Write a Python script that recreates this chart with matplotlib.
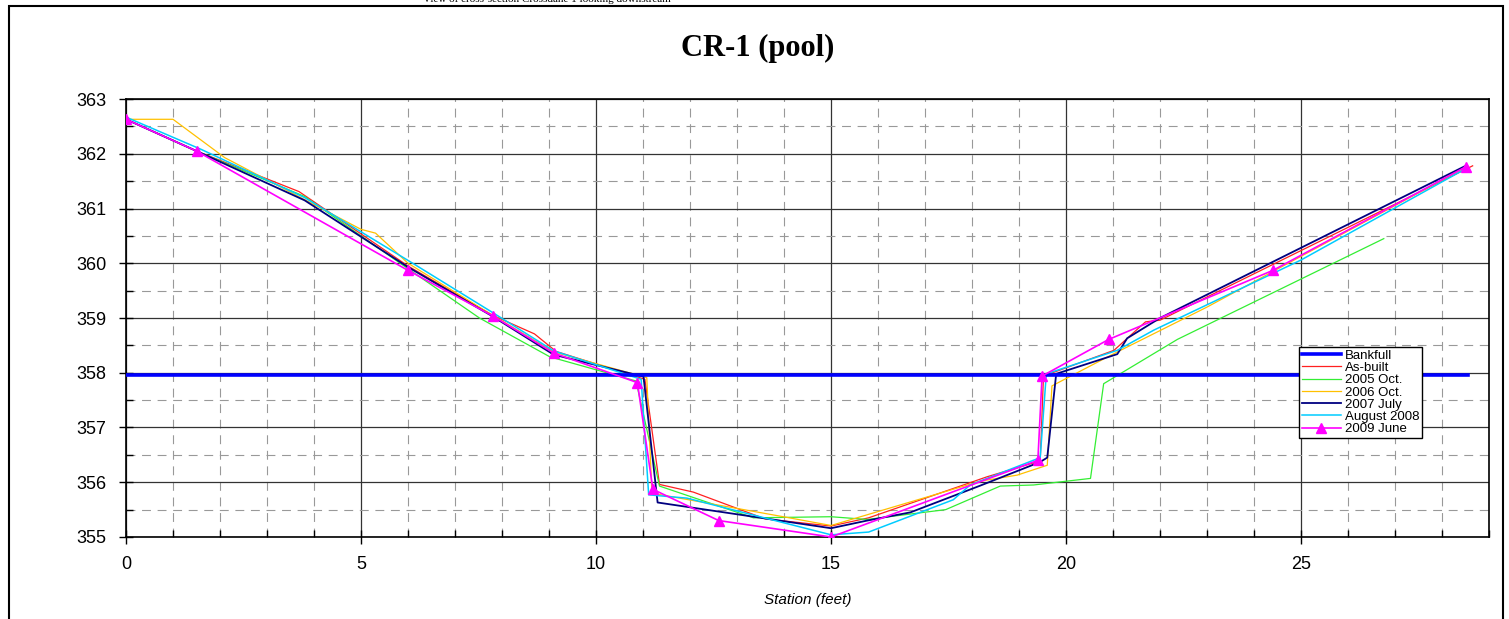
import numpy as np
import matplotlib
matplotlib.use("Agg")
import matplotlib.pyplot as plt
from matplotlib.patches import Rectangle

# cross section CR-1 (pool), survey lines
bank_x = [0, 28.55]
bank_y = [357.95, 357.95]

asbuilt_x = [0, 1.5, 3.68, 6.0, 7.8, 8.69, 9.15, 11.04, 11.35, 12.07, 13.6, 15.0, 15.8, 18.32, 19.45, 19.52, 21.02, 21.69, 22.0, 28.65]
asbuilt_y = [362.63, 362.05, 361.31, 359.95, 359.05, 358.71, 358.39, 357.88, 355.96, 355.82, 355.33, 355.2, 355.35, 356.1, 356.39, 357.94, 358.41, 358.93, 358.96, 361.78]

oct05_x = [0, 1.5, 3.8, 6.0, 7.52, 9.02, 10.85, 11.35, 13.35, 15.0, 15.77, 17.44, 18.6, 19.31, 20.52, 20.8, 22.37, 26.76]
oct05_y = [362.63, 362.05, 361.22, 359.9, 359.0, 358.29, 357.85, 355.93, 355.35, 355.37, 355.32, 355.5, 355.93, 355.95, 356.07, 357.8, 358.61, 360.45]

oct06_x = [0, 1.0, 2.1, 5.0, 5.31, 6.0, 7.8, 9.1, 11.08, 11.19, 13.92, 15.0, 18.18, 18.96, 19.6, 19.7, 21.02, 23.0, 28.5]
oct06_y = [362.63, 362.63, 361.93, 360.62, 360.55, 360.0, 359.05, 358.38, 357.91, 355.8, 355.38, 355.21, 356.02, 356.13, 356.31, 357.76, 358.35, 359.2, 361.75]

jul07_x = [0, 1.5, 3.8, 6.0, 7.8, 9.1, 11.01, 11.31, 15.0, 15.77, 16.69, 18.18, 19.45, 19.6, 19.79, 21.09, 21.3, 22.0, 28.5]
jul07_y = [362.63, 362.05, 361.15, 359.93, 359.03, 358.33, 357.93, 355.63, 355.16, 355.30, 355.45, 355.94, 356.37, 356.45, 357.98, 358.34, 358.63, 359.0, 361.78]

aug08_x = [0, 1.6, 3.8, 6.1, 7.8, 9.1, 10.96, 11.12, 11.93, 15.0, 15.8, 17.6, 17.96, 19.45, 19.58, 21.09, 21.87, 25.0, 28.55]
aug08_y = [362.67, 362.08, 361.2, 360.0, 359.1, 358.4, 357.88, 355.77, 355.71, 355.04, 355.09, 355.68, 355.95, 356.45, 357.98, 358.41, 358.78, 360.06, 361.75]

jun09_x = [0, 1.5, 6.0, 7.8, 9.1, 10.88, 11.21, 12.61, 15.0, 19.4, 19.49, 20.91, 24.4, 28.5]
jun09_y = [362.63, 362.05, 359.87, 359.04, 358.36, 357.82, 355.87, 355.3, 355.0, 356.4, 357.94, 358.61, 359.87, 361.76]

plt.rcParams['font.family'] = ['Liberation Sans', 'DejaVu Sans']

fig = plt.figure(figsize=(15.09, 6.19), dpi=100)
ax = fig.add_axes([0.0835, 0.1325, 0.9033, 0.7075])

ax.plot(bank_x, bank_y, color='#0000ff', lw=2.6, label='Bankfull', zorder=3)
ax.plot(asbuilt_x, asbuilt_y, color='#ff2020', lw=0.9, label='As-built')
ax.plot(oct05_x, oct05_y, color='#33ee33', lw=0.9, label='2005 Oct.')
ax.plot(oct06_x, oct06_y, color='#ffc000', lw=0.9, label='2006 Oct.')
ax.plot(jul07_x, jul07_y, color='#000080', lw=1.3, label='2007 July')
ax.plot(aug08_x, aug08_y, color='#00ccff', lw=1.1, label='August 2008')
ax.plot(jun09_x, jun09_y, color='#ff00ff', lw=1.2, marker='^', ms=7,
        label='2009 June', zorder=4)

ax.set_xlim(0, 29)
ax.set_ylim(355, 363)
ax.set_xticks(np.arange(0, 26, 5))
ax.set_xticks(np.arange(0, 30, 1), minor=True)
ax.set_yticks(np.arange(355, 364, 1))
ax.set_yticks(np.arange(355, 363.1, 0.5), minor=True)

ax.grid(which='major', color='#333333', lw=0.9, ls='-')
ax.grid(which='minor', color='#999999', lw=0.8, ls=(0, (8, 6)))
ax.set_axisbelow(True)

ax.tick_params(which='major', direction='inout', length=10, width=1, labelsize=13, pad=9)
ax.tick_params(which='minor', direction='in', length=5, width=1)
for s in ax.spines.values():
    s.set_linewidth(1.2)
    s.set_color('black')

ax.set_xlabel('Station (feet)', fontstyle='italic', fontsize=11, labelpad=14)
fig.text(0.5023, 1 - 48 / 619, 'CR-1 (pool)', ha='center', va='center',
         fontsize=22, fontweight='bold', family=['Liberation Serif', 'DejaVu Serif'])
fig.text(423 / 1509, 1 - 2 / 619, 'View of cross-section Crossdane 1 looking downstream',
         ha='left', va='baseline', fontsize=8, family=['Liberation Serif', 'DejaVu Serif'])

leg = ax.legend(loc='upper left', bbox_to_anchor=(1299 / 1509, 1 - 347 / 619),
                bbox_transform=fig.transFigure, fontsize=9.5, labelspacing=0.0,
                handlelength=3, handletextpad=0.3, borderpad=0.2, borderaxespad=0,
                fancybox=False, framealpha=1, edgecolor='black')
leg.get_frame().set_linewidth(1)

# outer chart frame
fig.add_artist(Rectangle((9 / 1509, -0.1), 1494 / 1509, 1.1 - 6 / 619,
                         transform=fig.transFigure, fill=False, ec='black', lw=1.5))

fig.savefig('out.png', dpi=100)
